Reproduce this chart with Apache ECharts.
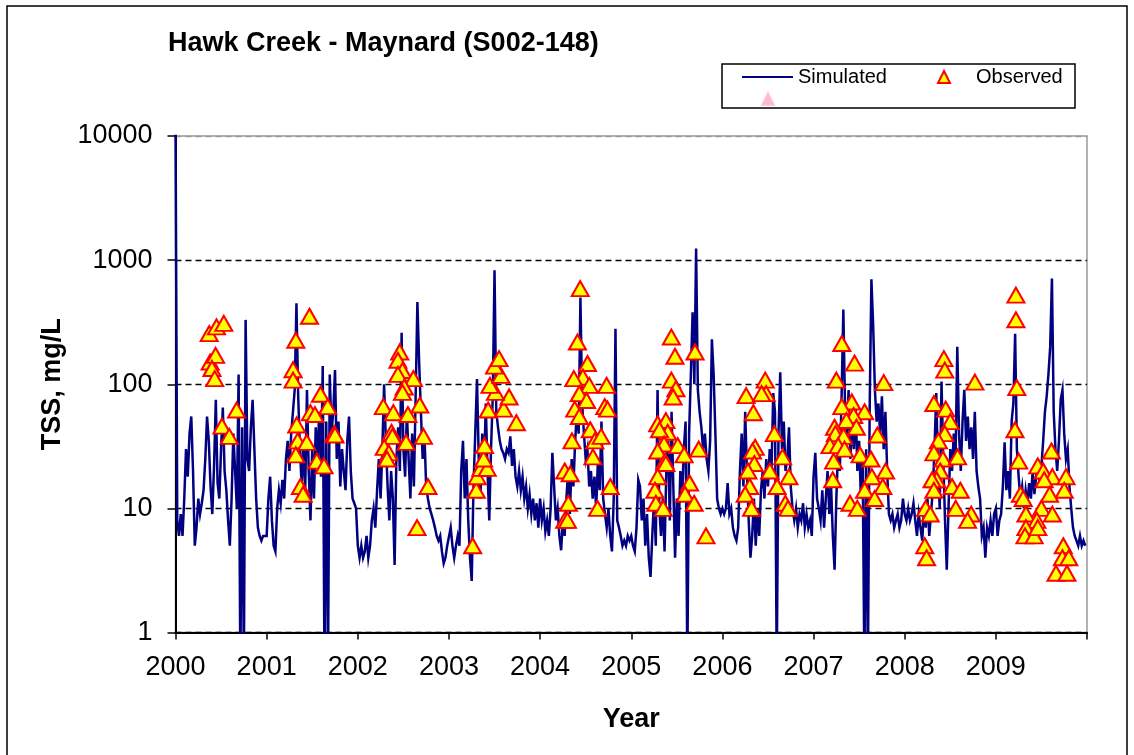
<!DOCTYPE html>
<html>
<head>
<meta charset="utf-8">
<title>Hawk Creek - Maynard (S002-148)</title>
<script src="https://cdn.jsdelivr.net/npm/echarts@6/dist/echarts.min.js"></script>
<style>
  html, body { margin: 0; padding: 0; background: #fff; }
  #chart { width: 1134px; height: 755px; }
</style>
</head>
<body>
<div id="chart"></div>
<script>
// x tick labels (years) and y tick labels (log scale)
const years = [2000, 2001, 2002, 2003, 2004, 2005, 2006, 2007, 2008, 2009];
const yTicks = [1, 10, 100, 1000, 10000];

// simulated TSS (mg/L), one value per week
const sim2000 = [15000,8,6,9,6,12,30,18,40,55,20,5,7,12,9,11,14,25,55,35,15,9,22,75,16,12,30,65,20,14,8,5,12,40,20,10,120,0.5,45,0.5,330,25,20,45,75,30,12,7,6,5.5,6,6];
const sim2001 = [6,12,18,8,5,4.5,10,14,11,17,12,25,35,20,40,60,90,450,80,30,15,35,14,90,20,8,30,12,45,25,60,18,140,0.5,50,0.5,120,40,60,130,25,50,15,30,20,14,35,55,20,12,11,10];
const sim2002 = [5,4,5,4,4.5,6,4,5,8,10,7,14,25,12,30,100,35,15,8,20,12,3.5,25,45,20,260,30,18,60,25,12,40,15,80,460,150,60,25,40,15,12,10,9,8,7,6,5.5,6,4.5,3.6,4,5];
const sim2003 = [5,7,5,4,5,6,5,20,35,12,25,8,4,2.6,15,40,110,25,12,40,18,70,20,8,30,80,830,60,45,35,30,28,25,30,28,38,22,30,18,15,20,14,18,12,15,10,13,9,12,8,11,7];
const sim2004 = [12,8,10,6.5,8,6,10,28,15,8,10,6,4.6,8,6,12,20,9,25,15,35,60,40,500,70,40,25,30,15,20,12,18,10,25,14,50,12,9,7,10,6,4.5,12,280,8,7,6,5,5.5,5,6,5.5];
const sim2005 = [6,5,4.5,7,17,15,8,12,5,9,4,2.8,6,12,5,90,10,6,12,4.5,20,35,8,60,15,4,12,6,20,12,30,50,0.5,40,120,380,100,1240,90,60,45,30,40,25,20,35,230,120,40,12,10,9];
const sim2006 = [10,9,10,16,9,10,7,6,5.5,7,20,40,15,60,20,8,4,6,12,5,10,6,14,20,12,25,15,30,20,85,60,0.5,40,125,30,50,20,25,45,15,10,8,10,7,9,8,11,7,9,7,8,6];
const sim2007 = [18,28,12,10,8,14,7,12,20,9,15,6,3.2,12,30,20,80,400,60,40,90,25,50,30,70,20,35,12,25,0.5,30,0.5,60,700,300,90,50,70,40,80,30,60,20,9,8,9,7,8,9,7,8,12];
const sim2008 = [9,8,10,8,9,11,8,6,9,7,5.5,10,7,12,6,9,14,30,85,20,10,105,25,8,3.2,10,30,20,40,25,200,40,20,50,90,35,55,30,45,25,60,20,15,12,6,7,4,7,6,8,6,9];
const sim2009 = [10,6,8,9,15,34,14,20,12,50,70,255,30,18,12,15,10,14,11,16,12,20,13,18,25,15,22,35,60,80,120,200,710,60,30,20,35,75,90,40,25,30,15,10,7,6,5.5,5,6,5,5.5,5];

// observed samples: [decimal year, TSS mg/L]
const obs2000 = [[2000.37,256],[2000.45,290],[2000.53,309],[2000.38,151],[2000.44,171],[2000.40,134],[2000.43,111],[2000.67,62],[2000.51,46],[2000.59,38]];
const obs2001 = [[2001.32,226],[2001.47,353],[2001.29,131],[2001.29,108],[2001.33,47],[2001.59,83],[2001.67,66],[2001.48,59],[2001.53,57],[2001.74,40],[2001.75,39],[2001.34,35],[2001.44,34],[2001.32,27],[2001.55,24],[2001.63,22],[2001.37,15],[2001.40,13]];
const obs2002 = [[2002.46,182],[2002.44,156],[2002.49,129],[2002.44,120],[2002.61,111],[2002.51,95],[2002.49,86],[2002.28,66],[2002.39,59],[2002.55,57],[2002.68,68],[2002.37,41],[2002.38,38],[2002.72,38],[2002.53,34],[2002.29,31],[2002.34,28],[2002.32,25],[2002.77,15],[2002.65,7]];
const obs2003 = [[2003.26,5],[2003.30,14],[2003.31,18],[2003.35,21],[2003.42,21],[2003.38,25],[2003.39,32],[2003.43,62],[2003.60,63],[2003.66,79],[2003.74,49],[2003.51,86],[2003.45,98],[2003.57,118],[2003.50,140],[2003.55,161]];
const obs2004 = [[2004.44,590],[2004.41,219],[2004.52,147],[2004.47,114],[2004.37,111],[2004.54,98],[2004.73,98],[2004.43,84],[2004.51,74],[2004.71,66],[2004.74,63],[2004.38,63],[2004.43,55],[2004.55,43],[2004.60,35],[2004.67,38],[2004.35,35],[2004.58,26],[2004.27,20],[2004.33,19],[2004.77,15],[2004.31,11],[2004.63,10],[2004.27,8],[2004.30,8]];
const obs2005 = [[2005.44,240],[2005.48,168],[2005.70,182],[2005.44,108],[2005.49,92],[2005.46,79],[2005.29,48],[2005.38,51],[2005.40,41],[2005.31,43],[2005.36,33],[2005.51,32],[2005.29,29],[2005.58,27],[2005.74,30],[2005.37,24],[2005.38,23],[2005.29,18],[2005.26,14],[2005.64,16],[2005.59,13],[2005.27,11],[2005.35,10],[2005.69,11],[2005.82,6]];
const obs2006 = [[2006.26,81],[2006.47,108],[2006.48,84],[2006.43,84],[2006.34,59],[2006.57,40],[2006.36,31],[2006.33,29],[2006.66,26],[2006.35,23],[2006.28,20],[2006.52,20],[2006.73,18],[2006.30,15],[2006.60,15],[2006.25,13],[2006.32,10],[2006.69,11],[2006.72,10]];
const obs2007 = [[2007.31,213],[2007.45,148],[2007.25,108],[2007.77,103],[2007.42,72],[2007.31,66],[2007.56,60],[2007.44,56],[2007.36,51],[2007.23,45],[2007.47,45],[2007.24,40],[2007.33,38],[2007.70,39],[2007.18,32],[2007.27,32],[2007.34,30],[2007.51,27],[2007.22,24],[2007.63,25],[2007.79,20],[2007.64,18],[2007.21,17],[2007.76,15],[2007.56,14],[2007.67,12],[2007.40,11],[2007.48,10]];
const obs2008 = [[2008.43,161],[2008.44,130],[2008.77,104],[2008.32,70],[2008.45,63],[2008.50,50],[2008.44,40],[2008.37,35],[2008.32,28],[2008.42,25],[2008.58,26],[2008.39,20],[2008.35,17],[2008.30,17],[2008.52,15],[2008.61,14],[2008.32,14],[2008.56,10],[2008.73,9],[2008.69,8],[2008.23,10],[2008.28,9],[2008.22,5],[2008.24,4]];
const obs2009 = [[2009.22,522],[2009.22,331],[2009.23,94],[2009.21,43],[2009.25,24],[2009.27,13],[2009.30,12],[2009.61,29],[2009.46,22],[2009.52,20],[2009.62,18],[2009.77,18],[2009.53,17],[2009.75,14],[2009.59,13],[2009.50,10],[2009.62,9],[2009.33,9],[2009.45,8],[2009.33,7],[2009.32,6],[2009.42,6],[2009.46,7],[2009.74,5],[2009.73,4],[2009.80,4],[2009.66,3],[2009.78,3]];

const simByYear = [sim2000, sim2001, sim2002, sim2003, sim2004, sim2005, sim2006, sim2007, sim2008, sim2009];
const simulated = [];
years.forEach((y, i) => {
  simByYear[i].forEach((v, w) => simulated.push([y + w / 52, v]));
});
const observed = [].concat(obs2000, obs2001, obs2002, obs2003, obs2004, obs2005, obs2006, obs2007, obs2008, obs2009);

const font = 'Liberation Sans, Arial, sans-serif';
const legendText = { fontFamily: font, fontSize: 20, color: '#000' };

const option = {
  animation: false,
  backgroundColor: '#fff',
  title: {
    text: 'Hawk Creek - Maynard (S002-148)',
    left: 168,
    top: 30,
    padding: 0,
    textStyle: { fontFamily: font, fontSize: 27, fontWeight: 'bold', color: '#000' }
  },
  legend: [
    {
      data: [{ name: 'Simulated', icon: 'rect' }],
      left: 742,
      top: 67,
      padding: 0,
      itemWidth: 51,
      itemHeight: 2,
      textStyle: legendText
    },
    {
      data: [{ name: 'Observed', icon: 'triangle' }],
      left: 937,
      top: 67,
      padding: 0,
      itemWidth: 12,
      itemHeight: 12,
      textStyle: Object.assign({ padding: [0, 0, 0, 21] }, legendText)
    },
    {
      data: [{ name: ' ', icon: 'triangle' }],
      left: 761,
      top: 92,
      padding: 0,
      itemWidth: 12,
      itemHeight: 12,
      textStyle: { fontSize: 1 }
    }
  ],
  graphic: [
    { type: 'rect', silent: true, z: 0, shape: { x: 7, y: 6, width: 1120, height: 760 }, style: { fill: 'none', stroke: '#000', lineWidth: 1.5 } },
    { type: 'rect', silent: true, z: 0, shape: { x: 722, y: 64, width: 353, height: 44 }, style: { fill: '#fff', stroke: '#000', lineWidth: 1.5 } }
  ],
  grid: {
    left: 175.5,
    right: 47,
    top: 136,
    bottom: 122.5,
    show: true,
    borderColor: '#999',
    borderWidth: 1.5
  },
  xAxis: {
    type: 'value',
    min: 2000,
    max: 2010,
    interval: 1,
    name: 'Year',
    nameLocation: 'middle',
    nameGap: 74,
    nameTextStyle: { fontFamily: font, fontSize: 27, fontWeight: 'bold', color: '#000' },
    axisLine: { lineStyle: { color: '#000', width: 2 } },
    axisTick: { length: 7, lineStyle: { color: '#000', width: 1.5 } },
    axisLabel: {
      fontFamily: font, fontSize: 27, color: '#000', margin: 22,
      formatter: v => (years.indexOf(v) >= 0 ? String(v) : '')
    },
    splitLine: { show: false }
  },
  yAxis: {
    type: 'log',
    logBase: 10,
    min: 1,
    max: 10000,
    name: 'TSS, mg/L',
    nameLocation: 'middle',
    nameGap: 94,
    nameTextStyle: { fontFamily: font, fontSize: 27, fontWeight: 'bold', color: '#000' },
    axisLine: { show: true, lineStyle: { color: '#000', width: 2 } },
    axisTick: { show: true, length: 8, lineStyle: { color: '#000', width: 1.5 } },
    axisLabel: {
      fontFamily: font, fontSize: 27, color: '#000', margin: 23,
      formatter: v => {
        const t = yTicks.find(k => Math.abs(k - v) / k < 1e-6);
        return t ? String(t) : '';
      }
    },
    splitLine: {
      show: true,
      lineStyle: { color: ['#000', '#000', '#000', '#000', '#999'], type: [6, 4], width: 1.3 }
    }
  },
  series: [
    {
      name: 'Simulated',
      type: 'line',
      data: simulated,
      symbol: 'none',
      clip: true,
      z: 2,
      lineStyle: { color: '#000080', width: 2.5, join: 'miter' },
      itemStyle: { color: '#000080' }
    },
    {
      name: 'Observed',
      type: 'scatter',
      data: observed,
      symbol: 'triangle',
      symbolSize: [17, 15],
      z: 3,
      itemStyle: { color: '#ffff00', borderColor: '#ff0000', borderWidth: 2, opacity: 1 }
    },
    {
      name: ' ',
      type: 'scatter',
      data: [],
      symbol: 'triangle',
      itemStyle: { color: '#ffa8c0', borderColor: '#ffc0d0', borderWidth: 1 }
    }
  ]
};

const chart = echarts.init(document.getElementById('chart'));
chart.setOption(option);
</script>
</body>
</html>
